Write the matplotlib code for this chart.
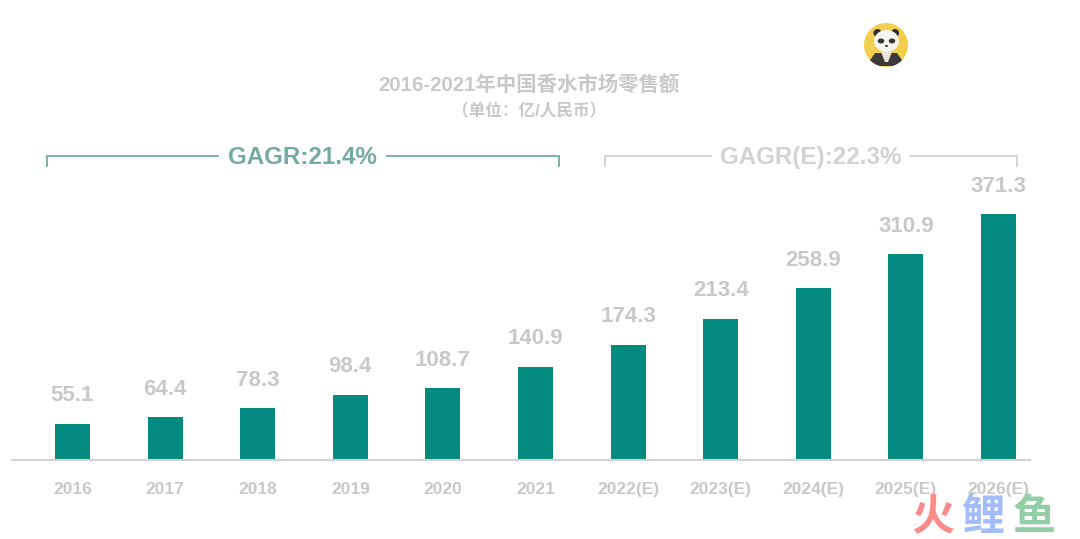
import matplotlib
matplotlib.use('Agg')
import matplotlib.pyplot as plt
from matplotlib.patches import Circle, Ellipse, Polygon

FONTS = ['Liberation Sans', 'Noto Sans CJK SC', 'DejaVu Sans']
plt.rcParams['font.family'] = FONTS

years = ['2016', '2017', '2018', '2019', '2020', '2021',
         '2022(E)', '2023(E)', '2024(E)', '2025(E)', '2026(E)']
sales = [55.1, 64.4, 78.3, 98.4, 108.7, 140.9, 174.3, 213.4, 258.9, 310.9, 371.3]
value_labels = ['55.1', '64.4', '78.3', '98.4', '108.7', '140.9',
                '174.3', '213.4', '258.9', '310.9', '371.3']

title = '2016-2021年中国香水市场零售额'
subtitle = '（单位：亿/人民币）'
cagr_actual = 'GAGR:21.4%'
cagr_forecast = 'GAGR(E):22.3%'

TEAL = '#058a80'
TEAL_LIGHT = '#74aaa4'
GREY = '#c8c8c8'
GREY_LINE = '#d2d2d2'

W, H = 1080, 539
fig = plt.figure(figsize=(W / 100, H / 100), dpi=100, facecolor='white')

# bars, baseline sits at y=460px
ax = fig.add_axes([12 / W, (H - 460) / H, 1018 / W, 260 / H])
ax.set_xlim(-0.653, 10.34)
ax.set_ylim(0, 392.5)
ax.patch.set_visible(False)
bars = ax.bar(range(len(sales)), sales, width=0.378, color=TEAL)
ax.bar_label(bars, labels=value_labels, padding=12.5, fontsize=16, color=GREY,
             fontweight='bold')
ax.set_xticks(range(len(years)), years, fontsize=12.5, color=GREY, fontweight='bold')
ax.tick_params(axis='x', length=0, pad=15.5)
ax.set_yticks([])
for side in ['top', 'left', 'right']:
    ax.spines[side].set_visible(False)
ax.spines['bottom'].set_color(GREY_LINE)
ax.spines['bottom'].set_linewidth(1.5)

# everything else is placed in pixel coords
over = fig.add_axes([0, 0, 1, 1])
over.set_xlim(0, W)
over.set_ylim(H, 0)
over.axis('off')

over.text(529, 85, title, ha='center', va='center', fontsize=14.7, color=GREY,
          fontweight='bold')
over.text(529, 111, subtitle, ha='center', va='center', fontsize=12, color=GREY,
          fontweight='bold')


def bracket(x0, x1, gap0, gap1, color, label):
    over.plot([x0, x0, gap0], [166, 156, 156], color=color, lw=1.3, solid_joinstyle='miter')
    over.plot([gap1, x1, x1], [156, 156, 166], color=color, lw=1.3, solid_joinstyle='miter')
    over.text((gap0 + gap1) / 2, 157.5, label, ha='center', va='center', fontsize=17.4,
              color=color, fontweight='bold')


bracket(47, 559, 218, 387, TEAL_LIGHT, cagr_actual)
bracket(605, 1017, 711, 910, GREY_LINE, cagr_forecast)

# panda badge
badge = Circle((886, 45), 22, color='#f4cf4e', lw=0)
over.add_patch(badge)
body = Polygon([(866, 66), (875, 53), (897, 53), (906, 66)], color='#3a3a3a', lw=0)
over.add_patch(body)
body.set_clip_path(badge)
over.add_patch(Polygon([(881, 52), (892, 52), (888, 62), (885, 62)], color='#e8e4da', lw=0))
for ex in (877.5, 895):
    over.add_patch(Circle((ex, 33), 4, color='#2e2e2e', lw=0))
over.add_patch(Ellipse((886.5, 41), 25, 22, color='#f6f4ee', lw=0))
for ex in (881, 892):
    over.add_patch(Ellipse((ex, 41), 6.5, 5, color='#333333', lw=0))
over.add_patch(Ellipse((886.5, 46), 3, 2, color='#333333', lw=0))

# watermark
for ch, cx, col in [('火', 933, '#fb8b8b'), ('鲤', 983, '#a3bdfb'), ('鱼', 1034, '#93cfa6')]:
    over.text(cx, 517, ch, ha='center', va='center', fontsize=31, color=col,
              fontweight='bold', family=['Noto Sans CJK SC', 'DejaVu Sans'])

fig.savefig('out.png', dpi=100, facecolor='white')
